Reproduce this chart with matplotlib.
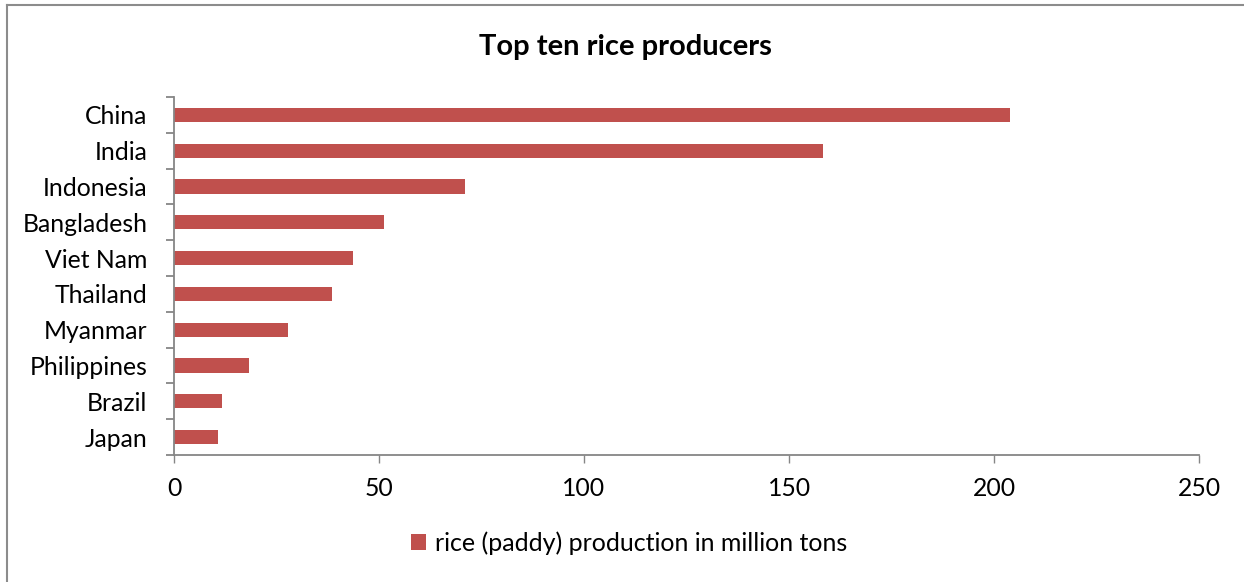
import matplotlib
matplotlib.use("Agg")
import matplotlib.pyplot as plt
from matplotlib.lines import Line2D
import numpy as np

plt.rcParams['font.family'] = ['Lato', 'DejaVu Sans']

countries = ['China', 'India', 'Indonesia', 'Bangladesh', 'Viet Nam',
             'Thailand', 'Myanmar', 'Philippines', 'Brazil', 'Japan']
production = [203.8, 158.2, 70.9, 51.1, 43.7, 38.6, 27.9, 18.3, 11.7, 10.7]
x_ticks = [0, 50, 100, 150, 200, 250]

bar_color = '#C0504D'
axis_color = '#868686'

fig = plt.figure(figsize=(12.44, 5.82), dpi=100)
ax = fig.add_axes([174 / 1244, 1 - 455 / 582, 1025 / 1244, 358 / 582])

y = np.arange(len(countries))
ax.barh(y, production, height=0.4, color=bar_color,
        label='rice (paddy) production in million tons')
ax.set_ylim(len(countries) - 0.5, -0.5)
ax.set_xlim(0, 250)

ax.set_yticks(y)
ax.set_yticklabels(countries)
ax.set_yticks(np.arange(len(countries) + 1) - 0.5, minor=True)
ax.tick_params(axis='y', which='major', length=0, pad=19, labelsize=17.8)
ax.tick_params(axis='y', which='minor', length=6, width=1.3, color=axis_color)

ax.set_xticks(x_ticks)
ax.tick_params(axis='x', length=6, width=1, color=axis_color, pad=10, labelsize=17.8)

for s in ['top', 'right']:
    ax.spines[s].set_visible(False)
for s in ['left', 'bottom']:
    ax.spines[s].set_color(axis_color)
    ax.spines[s].set_linewidth(1.3)

fig.text(0.503, 1 - 47 / 582, 'Top ten rice producers', ha='center', va='center',
         fontsize=21, fontweight='bold')

ax.legend(loc='center', bbox_to_anchor=(0.506, 1 - 543 / 582), bbox_transform=fig.transFigure,
          frameon=False, fontsize=18, handlelength=0.6, handleheight=0.6,
          handletextpad=0.35)

# outer chart border (only left and top are visible)
fig.add_artist(Line2D([7 / 1244, 7 / 1244], [0, 1 - 5 / 582], transform=fig.transFigure,
                      color='#8c8c8c', lw=1.5))
fig.add_artist(Line2D([7 / 1244, 1], [1 - 5 / 582, 1 - 5 / 582], transform=fig.transFigure,
                      color='#8c8c8c', lw=1.5))

fig.savefig('out.png', dpi=100, facecolor='white')
